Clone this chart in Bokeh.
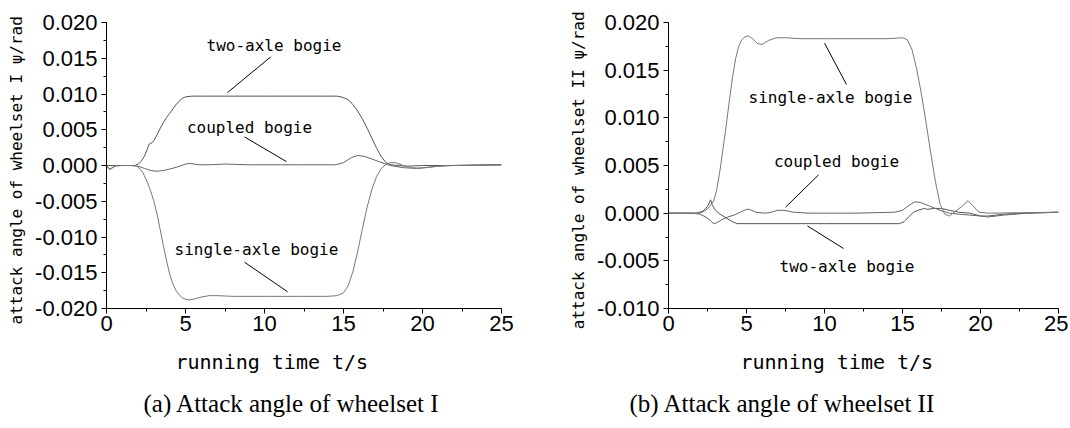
from bokeh.plotting import figure
from bokeh.layouts import row
from bokeh.models import Range1d, SingleIntervalTicker, PrintfTickFormatter, Label, Title
from bokeh.embed import file_html
from bokeh.resources import INLINE

# ---------------- data : wheelset I ----------------
t1_two = [0, 0.5, 1.0, 1.5, 1.8, 2.0, 2.2, 2.4, 2.6, 2.7, 2.8, 2.9, 3.0, 3.2, 3.4, 3.6, 3.8, 4.0, 4.2, 4.4,
          4.6, 4.8, 5.0, 5.4, 6, 8, 10, 12, 14, 14.6, 15.0, 15.3, 15.6, 15.9, 16.2, 16.5, 16.8, 17.1, 17.4,
          17.7, 18.0, 18.5, 19.0, 20.0, 22, 25]
y1_two = [0, 0, 0, 0, 0, 0.0002, 0.0006, 0.0013, 0.0024, 0.0030, 0.0031, 0.0032, 0.0035, 0.0043, 0.0052,
          0.0060, 0.0067, 0.0073, 0.0079, 0.0085, 0.0090, 0.0094, 0.0096, 0.0097, 0.0097, 0.0097, 0.0097,
          0.0097, 0.0097, 0.0097, 0.0095, 0.0092, 0.0085, 0.0076, 0.0065, 0.0052, 0.0038, 0.0024, 0.0012,
          0.0004, 0.0001, 0.0000, -0.0001, 0.0000, 0.0000, 0.0001]

t1_cpl = [0, 0.2, 0.4, 0.6, 1.0, 1.5, 2.0, 2.4, 2.8, 3.2, 3.6, 4.0, 4.5, 5.0, 5.3, 5.8, 6.5, 7.5, 9, 12,
          14.5, 15.0, 15.5, 15.9, 16.3, 16.8, 17.3, 17.8, 18.2, 18.8, 19.5, 20.2, 21, 22, 25]
y1_cpl = [0, -0.0005, -0.0003, 0, 0, 0, -0.0001, -0.0004, -0.0007, -0.0008, -0.0007, -0.0005, -0.0002,
          0.0002, 0.0003, 0.0001, 0.0001, 0.0002, 0.0001, 0.0001, 0.0001, 0.0004, 0.0011, 0.0014, 0.0013,
          0.0009, 0.0005, 0.0001, -0.0001, -0.0003, -0.0004, -0.0003, -0.0001, 0.0000, 0.0001]

t1_sgl = [0, 0.2, 0.5, 1.0, 1.8, 2.0, 2.3, 2.6, 2.8, 3.0, 3.2, 3.4, 3.6, 3.8, 4.0, 4.2, 4.4, 4.6, 4.8, 5.0,
          5.2, 5.5, 6.0, 6.5, 7.0, 8, 10, 12, 14, 14.6, 15.0, 15.3, 15.6, 15.9, 16.2, 16.5, 16.8, 17.1,
          17.4, 17.7, 18.0, 18.3, 18.8, 19.3, 19.8, 20.5, 21.5, 25]
y1_sgl = [0, -0.0006, -0.0001, 0, 0, -0.0002, -0.0010, -0.0024, -0.0036, -0.0050, -0.0068, -0.0090,
          -0.0112, -0.0133, -0.0152, -0.0166, -0.0175, -0.0181, -0.0185, -0.0187, -0.0188, -0.0187,
          -0.0184, -0.0182, -0.0182, -0.0183, -0.0183, -0.0183, -0.0183, -0.0182, -0.0178, -0.0168,
          -0.0148, -0.0120, -0.0088, -0.0058, -0.0033, -0.0015, -0.0004, 0.0002, 0.0004, 0.0004, 0.0000,
          -0.0003, -0.0004, -0.0002, 0.0000, 0.0001]

# ---------------- data : wheelset II ----------------
t2_sgl = [0, 1.5, 2.0, 2.3, 2.6, 2.9, 3.1, 3.3, 3.5, 3.7, 3.9, 4.1, 4.3, 4.5, 4.7, 4.9, 5.1, 5.4, 5.7, 6.0,
          6.4, 6.9, 7.5, 8.5, 10, 12, 14, 15.0, 15.3, 15.6, 15.9, 16.2, 16.5, 16.8, 17.1, 17.4, 17.7, 18.0,
          18.4, 18.8, 19.2, 19.5, 19.9, 20.5, 25]
y2_sgl = [0, 0, 0, 0.0002, 0.0006, 0.0013, 0.0025, 0.0045, 0.0068, 0.0092, 0.0118, 0.0142, 0.0162,
          0.0175, 0.0182, 0.0185, 0.0186, 0.0183, 0.0178, 0.0177, 0.0181, 0.0184, 0.0184, 0.0183, 0.0183,
          0.0183, 0.0183, 0.0184, 0.0182, 0.0172, 0.0152, 0.0126, 0.0096, 0.0064, 0.0034, 0.0010, -0.0001,
          -0.0003, 0.0002, 0.0007, 0.0013, 0.0008, 0.0001, 0.0000, 0.0001]

t2_cpl = [0, 1.5, 2.0, 2.4, 2.7, 2.9, 3.1, 3.4, 3.8, 4.2, 4.6, 5.0, 5.2, 5.6, 6.2, 6.6, 7.0, 7.4, 8.0, 9,
          12, 14.5, 15.0, 15.4, 15.8, 16.2, 16.8, 17.4, 18.0, 18.6, 19.3, 20.0, 20.5, 21.5, 23, 25]
y2_cpl = [0, 0, -0.0001, -0.0004, -0.0008, -0.0011, -0.0010, -0.0007, -0.0004, -0.0002, 0.0001, 0.0004,
          0.0004, 0.0001, 0.0000, 0.0001, 0.0003, 0.0003, 0.0001, 0.0000, 0.0000, 0.0001, 0.0003, 0.0008,
          0.0012, 0.0011, 0.0007, 0.0003, 0.0000, -0.0001, -0.0002, -0.0003, -0.0004, -0.0002, 0.0000,
          0.0001]

t2_two = [0, 1.8, 2.2, 2.5, 2.7, 2.8, 3.0, 3.3, 3.7, 4.1, 4.4, 6, 10, 14.8, 15.1, 15.4, 15.7, 16.0, 16.4,
          16.6, 17.0, 17.5, 18.0, 18.6, 19.3, 20.0, 20.5, 21.5, 23, 25]
y2_two = [0, 0, 0.0002, 0.0007, 0.0014, 0.0009, 0.0003, -0.0001, -0.0005, -0.0009, -0.0011, -0.0011,
          -0.0011, -0.0011, -0.0009, -0.0004, 0.0001, 0.0003, 0.0005, 0.0004, 0.0005, 0.0005, 0.0003,
          0.0001, 0.0000, -0.0003, -0.0003, -0.0001, 0.0000, 0.0001]

# ---------------- annotation texts & leader lines ----------------
names = ["two-axle bogie", "coupled bogie", "single-axle bogie"]
lab1_x = [10.6, 9.05, 9.49]
lab1_y = [0.01683, 0.00538, -0.01172]
lead1_x0 = [10.38, 8.73, 8.73]
lead1_y0 = [0.01517, 0.0040, -0.01352]
lead1_x1 = [7.66, 11.39, 11.46]
lead1_y1 = [0.0102, 0.00055, -0.01766]

lab2_x = [11.44, 10.77, 10.38]
lab2_y = [-0.00557, 0.00546, 0.01216]
lead2_x0 = [8.91, 9.62, 10.0]
lead2_y0 = [-0.00134, 0.00402, 0.01784]
lead2_x1 = [11.22, 7.5, 11.41]
lead2_y1 = [-0.00371, 0.00062, 0.0135]

x_label = "running time t/s"
captions = ["(a) Attack angle of wheelset I", "(b) Attack angle of wheelset II"]
y_labels = ["attack angle of wheelset I  \u03c8/rad", "attack angle of wheelset II  \u03c8/rad"]

x_ticks_interval = 5
y_ticks_interval = 0.005

MONO = "DejaVu Sans Mono"
SANS = "Liberation Sans"
SERIF = "Liberation Serif"


def make_panel(width, height, borders, yrange, ylabel, curves, lab_x, lab_y, l0x, l0y, l1x, l1y,
               xl_off, xl_standoff, caption, cap_off, cap_standoff):
    p = figure(width=width, height=height, output_backend="svg", toolbar_location=None,
               x_range=Range1d(0, 25), y_range=Range1d(*yrange),
               min_border_left=borders[0], min_border_right=borders[1],
               min_border_top=borders[2], min_border_bottom=borders[3])
    p.outline_line_color = None
    p.grid.visible = False
    p.background_fill_color = "white"
    p.border_fill_color = "white"

    p.xaxis.ticker = SingleIntervalTicker(interval=x_ticks_interval, num_minor_ticks=2)
    p.yaxis.ticker = SingleIntervalTicker(interval=y_ticks_interval, num_minor_ticks=2)
    p.yaxis.formatter = PrintfTickFormatter(format="%.3f")
    for ax in (p.xaxis, p.yaxis):
        ax.axis_line_color = "black"
        ax.major_tick_line_color = "black"
        ax.minor_tick_line_color = "black"
        ax.major_tick_in = 0
        ax.major_tick_out = 5
        ax.minor_tick_in = 0
        ax.minor_tick_out = 3
        ax.major_label_text_font = SANS
        ax.major_label_text_font_size = "22px"
        ax.major_label_text_color = "black"
    p.xaxis.major_label_standoff = 2
    p.yaxis.major_label_standoff = 4
    p.yaxis.axis_label = ylabel
    p.yaxis.axis_label_text_font = MONO
    p.yaxis.axis_label_text_font_size = "16px"
    p.yaxis.axis_label_text_font_style = "normal"
    p.yaxis.axis_label_text_color = "black"
    p.yaxis.axis_label_standoff = 6

    colors = ["#555555", "#666666", "#777777"]
    for (tx, ty), c in zip(curves, colors):
        p.line(tx, ty, line_color=c, line_width=1)

    p.segment(x0=l0x, y0=l0y, x1=l1x, y1=l1y, line_color="black", line_width=1)
    for name, lx, ly in zip(names, lab_x, lab_y):
        p.add_layout(Label(x=lx, y=ly, text=name, text_font=MONO, text_font_size="16px",
                           text_align="center", text_baseline="middle", text_color="black"))

    p.add_layout(Title(text=x_label, align="left", offset=xl_off, text_font=MONO,
                       text_font_size="20px", text_font_style="normal", text_color="black",
                       standoff=xl_standoff), "below")
    p.add_layout(Title(text=caption, align="left", offset=cap_off, text_font=SERIF,
                       text_font_size="25px", text_font_style="normal", text_color="black",
                       standoff=cap_standoff), "below")
    return p


p1 = make_panel(540, 426, (106, 39, 22, 114), (-0.02, 0.02), y_labels[0],
                [(t1_two, y1_two), (t1_cpl, y1_cpl), (t1_sgl, y1_sgl)],
                lab1_x, lab1_y, lead1_x0, lead1_y0, lead1_x1, lead1_y1,
                69, 28, captions[0], 37, 0)

p2 = make_panel(528, 426, (128, 10, 17, 118), (-0.01, 0.02), y_labels[1],
                [(t2_two, y2_two), (t2_cpl, y2_cpl), (t2_sgl, y2_sgl)],
                lab2_x, lab2_y, lead2_x0, lead2_y0, lead2_x1, lead2_y1,
                72, 28, captions[1], -39, 0)

layout = row(p1, p2)
open("out.html", "w").write(file_html(layout, INLINE))
